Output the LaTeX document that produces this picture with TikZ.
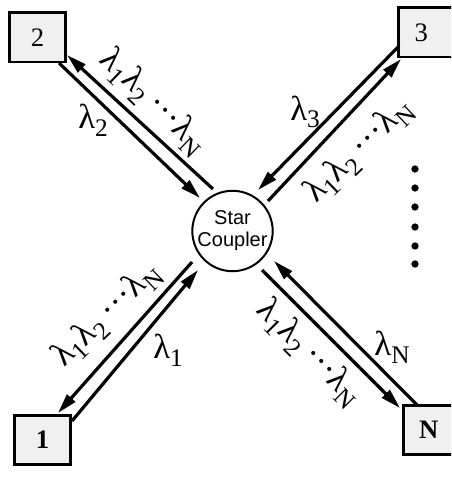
\documentclass[tikz,border=0pt]{standalone}
\usepackage{fontspec}
\setmainfont{Liberation Serif}
\newfontfamily\sansf{Liberation Sans}
\usetikzlibrary{arrows.meta}
\newcommand\lsub[2]{#1\raisebox{-0.22em}{\fontsize{19}{19}\selectfont #2}}
\newcommand\lamall{\lsub{λ}{1}\lsub{λ}{2}\,···\lsub{λ}{N}}
\begin{document}
\begin{tikzpicture}[x=0.75pt,y=-0.75pt,
  fiber/.style={line width=2.4pt,-{Triangle[length=15pt,width=8pt]}},
  box/.style={draw,line width=2pt,fill=black!6,minimum width=42pt,minimum height=37pt,inner sep=0pt,font=\fontsize{20}{20}\selectfont},
  lam/.style={font=\fontsize{26}{28}\selectfont,inner sep=0pt},
  dotmark/.style={circle,fill=black,minimum size=5.5pt,inner sep=0pt}]
\clip (0,0) rectangle (451,481);
% boxes
\node[box] (b2) at (37.5,37.5) {2};
\node[box] (b3) at (426.5,32.5) {\hspace*{-8pt}3};
\node[box] (b1) at (42.5,440) {\bfseries 1};
\node[box] (bN) at (431.5,430) {\hspace*{-4pt}\bfseries N};
% star coupler
\node[draw,circle,line width=1.5pt,minimum size=60pt,inner sep=0pt,align=center,
  font=\sansf\fontsize{15}{16.5}\selectfont] (sc) at (232.5,231) {Star\\Coupler};
% fibre end points
\coordinate (a2s) at (213,189); \coordinate (a2e) at (67,55);
\coordinate (b2s) at (59,63);   \coordinate (b2e) at (200,198);
\coordinate (a3s) at (399,46);  \coordinate (a3e) at (258,190);
\coordinate (b3s) at (268,201); \coordinate (b3e) at (401,59);
\coordinate (a1s) at (192,262); \coordinate (a1e) at (58,413);
\coordinate (b1s) at (72,421);  \coordinate (b1e) at (198,270);
\coordinate (aNs) at (417,405); \coordinate (aNe) at (274,261);
\coordinate (bNs) at (262,270); \coordinate (bNe) at (400,408);
% fibres
\draw[fiber] (a2s) -- (a2e);
\draw[fiber] (b2s) -- (b2e);
\draw[fiber] (a3s) -- (a3e);
\draw[fiber] (b3s) -- (b3e);
\draw[fiber] (a1s) -- (a1e);
\draw[fiber] (b1s) -- (b1e);
\draw[fiber] (aNs) -- (aNe);
\draw[fiber] (bNs) -- (bNe);
% labels
\node[lam,rotate=-44] (l2all) at (153,102) {\lamall};
\node[lam] (l2) at (93,120) {\lsub{λ}{2}};
\node[lam] (l3) at (305,112) {\lsub{λ}{3}};
\node[lam,rotate=44] (l3all) at (359,151) {\lamall};
\node[lam,rotate=44] (l1all) at (107,315) {\lamall};
\node[lam] (l1) at (168,350) {\lsub{λ}{1}};
\node[lam] (lN) at (392,347) {\lsub{λ}{N}};
\node[lam,rotate=-45] (lNall) at (309,353) {\lamall};
% dots
\foreach \yy [count=\i] in {169,188,207,227,246,264}
  \node[dotmark] (d\i) at (415,\yy) {};
\end{tikzpicture}
\end{document}
